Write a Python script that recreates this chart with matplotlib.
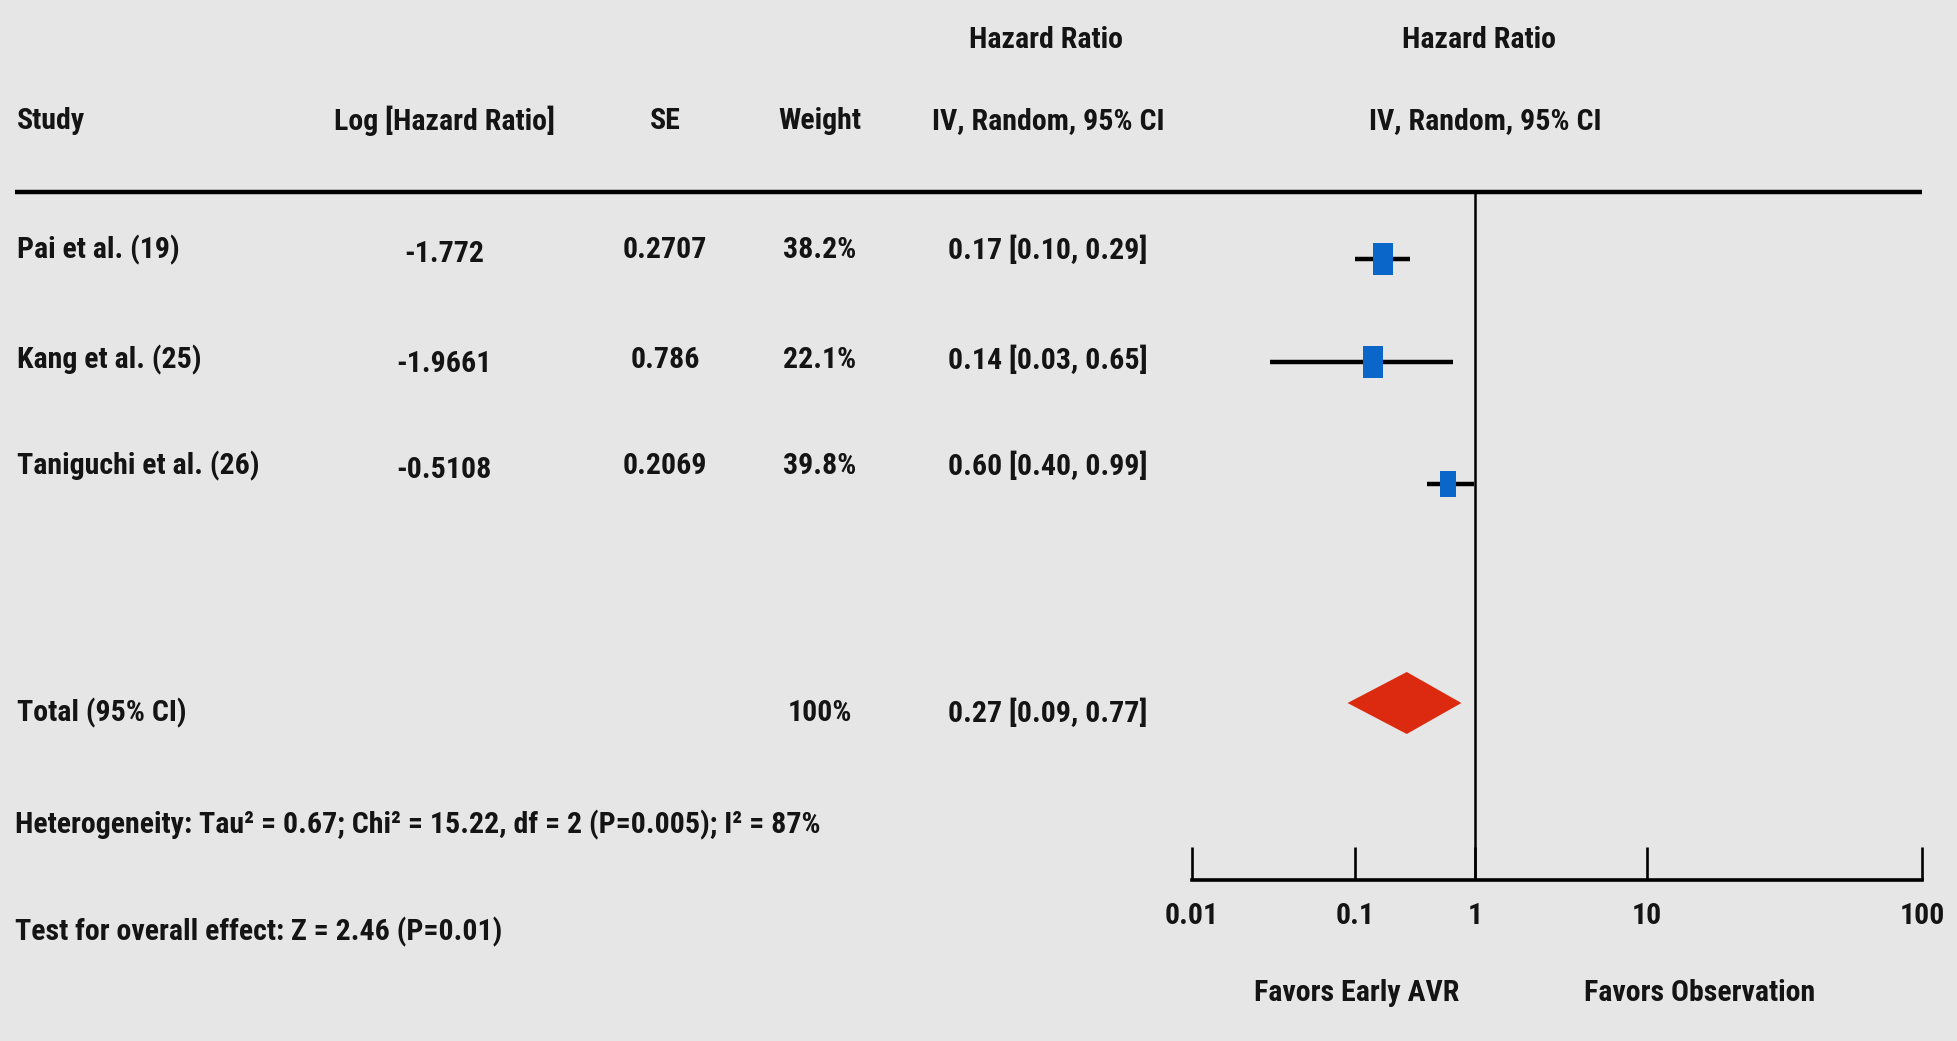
import numpy as np
import matplotlib
matplotlib.use("Agg")
import matplotlib.pyplot as plt
from matplotlib import font_manager
from matplotlib.lines import Line2D
from matplotlib.path import Path
from matplotlib.patches import Polygon

# ---- data -------------------------------------------------------------
studies = ["Pai et al. (19)", "Kang et al. (25)", "Taniguchi et al. (26)"]
log_hr = ["-1.772", "-1.9661", "-0.5108"]
se = ["0.2707", "0.786", "0.2069"]
weights = ["38.2%", "22.1%", "39.8%"]
hr = [0.17, 0.14, 0.60]
ci_low = [0.10, 0.03, 0.40]
ci_high = [0.29, 0.65, 0.99]

total_label = "Total (95% CI)"
total_weight = "100%"
total_hr = 0.27
total_low = 0.09
total_high = 0.77

heterogeneity = "Heterogeneity: Tau\u00b2 = 0.67; Chi\u00b2 = 15.22, df = 2 (P=0.005); I\u00b2 = 87%"
overall_test = "Test for overall effect: Z = 2.46 (P=0.01)"

tick_values = [0.01, 0.1, 1, 10, 100]
tick_labels = ["0.01", "0.1", "1", "10", "100"]
favors_left = "Favors Early AVR"
favors_right = "Favors Observation"

# ---- fonts --------------------------------------------------------------
available = {f.name for f in font_manager.fontManager.ttflist}
family = [f for f in ["Roboto Condensed", "Liberation Sans Narrow",
                      "DejaVu Sans Condensed", "Liberation Sans"] if f in available]
family = family + ["DejaVu Sans"]
plt.rcParams["font.family"] = family

W, H = 1957, 1041
BG = "#e6e6e6"
BLUE = "#0a66c8"
RED = "#dc2a10"
INK = "#141414"
FS = 21.5

fig = plt.figure(figsize=(W / 100, H / 100), dpi=100, facecolor=BG)


def fx(x):
    return x / W


def fy(y):
    return 1 - y / H


def put(x, y, s, ha="left", weight="bold", size=FS):
    fig.text(fx(x), fy(y), s, ha=ha, va="center", fontsize=size,
             fontweight=weight, color=INK)


# ---- header -------------------------------------------------------------
put(1046, 40, "Hazard Ratio", ha="center")
put(1479, 40, "Hazard Ratio", ha="center")
put(17, 121, "Study")
put(444, 121, "Log [Hazard Ratio]", ha="center")
put(665, 121, "SE", ha="center")
put(820, 121, "Weight", ha="center")
put(1048, 121, "IV, Random, 95% CI", ha="center")
put(1485, 121, "IV, Random, 95% CI", ha="center")

fig.add_artist(Line2D([fx(15), fx(1922)], [fy(192), fy(192)],
                      color="black", lw=3.2, solid_capstyle="butt"))

# ---- study rows -----------------------------------------------------------
text_rows = [250, 360, 466]
for i, name in enumerate(studies):
    y = text_rows[i]
    put(17, y, name)
    put(444, y + 4, log_hr[i], ha="center")
    put(665, y, se[i], ha="center")
    put(820, y, weights[i], ha="center")
    put(1048, y, f"{hr[i]:.2f} [{ci_low[i]:.2f}, {ci_high[i]:.2f}]", ha="center")

put(17, 713, total_label)
put(820, 713, total_weight, ha="center")
put(1048, 713, f"{total_hr:.2f} [{total_low:.2f}, {total_high:.2f}]", ha="center")

put(15, 825, heterogeneity)
put(15, 932, overall_test)

# ---- forest plot ---------------------------------------------------------
ax_left, ax_right, ax_top, ax_bottom = 1192, 1922, 192, 880
ax = fig.add_axes([fx(ax_left), fy(ax_bottom),
                   (ax_right - ax_left) / W, (ax_bottom - ax_top) / H])
ax.set_facecolor("none")

# decade breakpoints on the log axis and where each sits along the axis
decades = np.log10(tick_values)
stops = np.array([0, 163, 283, 455, 730], dtype=float)


def forward(x):
    x = np.clip(np.asarray(x, dtype=float), 1e-6, None)
    return np.interp(np.log10(x), decades, stops)


def inverse(v):
    return 10 ** np.interp(np.asarray(v, dtype=float), stops, decades)


ax.set_xscale("function", functions=(forward, inverse))
ax.set_xlim(tick_values[0], tick_values[-1])
ax.set_ylim(ax_bottom, ax_top)  # y runs in figure pixel rows

mark_rows = [259, 362, 484]
box = Path([(-0.31, -0.5), (0.31, -0.5), (0.31, 0.5), (-0.31, 0.5), (-0.31, -0.5)],
           [Path.MOVETO, Path.LINETO, Path.LINETO, Path.LINETO, Path.CLOSEPOLY])
box_sizes = [23, 22.5, 19]
for i in range(len(studies)):
    y = mark_rows[i]
    ax.plot([ci_low[i], ci_high[i]], [y, y], color="black", lw=3.2,
            solid_capstyle="butt", zorder=2)
    ax.plot([hr[i]], [y], marker=box, markersize=box_sizes[i],
            color=BLUE, markeredgewidth=0, linestyle="none", zorder=3)

ty = 703
half_h = 31
ax.add_patch(Polygon([(total_low, ty), (total_hr, ty - half_h),
                      (total_high, ty), (total_hr, ty + half_h)],
                     closed=True, facecolor=RED, edgecolor="none", zorder=3))

ax.axvline(1, color="black", lw=1.8, zorder=1)

for s in ["top", "right", "left"]:
    ax.spines[s].set_visible(False)
ax.spines["bottom"].set_linewidth(2.6)
ax.set_yticks([])
ax.set_xticks(tick_values)
ax.set_xticklabels(tick_labels)
ax.minorticks_off()
ax.tick_params(axis="x", direction="in", length=24, width=1.9,
               labelsize=FS, pad=16, colors="black", labelcolor=INK)
for lbl in ax.get_xticklabels():
    lbl.set_fontweight("bold")

put(1357, 993, favors_left, ha="center")
put(1700, 993, favors_right, ha="center")

fig.savefig("out.png", dpi=100, facecolor=BG)
